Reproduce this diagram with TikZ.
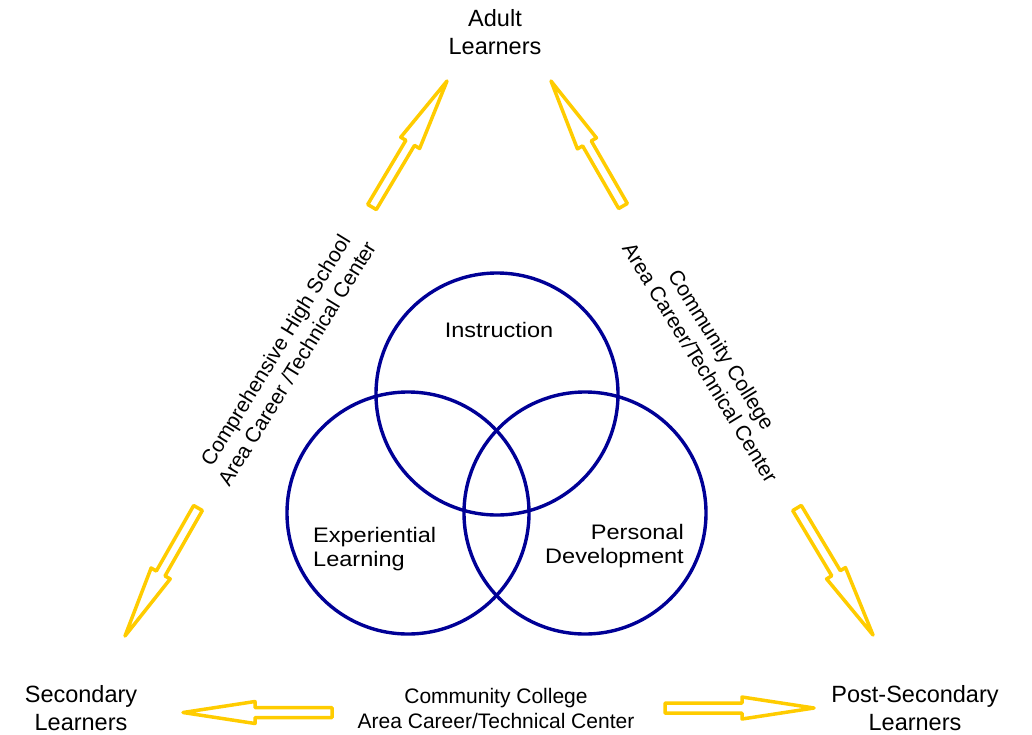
\documentclass[tikz,border=0pt]{standalone}
\usepackage{fontspec}
\setmainfont{Liberation Sans}
\newfontfamily\widesans[FakeStretch=1.12]{Liberation Sans}
\usetikzlibrary{calc}
\definecolor{gold}{RGB}{255,204,0}
\definecolor{navy}{RGB}{0,0,150}
\tikzset{
  barrow/.style={draw=gold, line width=3.5pt, line join=round},
  ring/.style={circle, draw=navy, line width=3.4pt, minimum size=242pt, inner sep=0pt},
  biglabel/.style={inner sep=0pt, align=center, font=\fontsize{23.5}{28}\selectfont},
  midlabel/.style={inner sep=0pt, align=center, font=\fontsize{21}{25}\selectfont},
  ringlabel/.style={inner sep=0pt, font=\widesans\fontsize{21}{24}\selectfont},
}
% #1 tail coordinate, #2 tip coordinate
\newcommand\blockarr[2]{%
  \coordinate (#1-neck) at ($(#2)!72pt!(#1)$);
  \draw[barrow] ($(#1)!5pt!90:(#2)$) -- ($(#1-neck)!5pt!90:(#2)$) -- ($(#1-neck)!11pt!90:(#2)$)
    -- (#2) -- ($(#1-neck)!11pt!-90:(#2)$) -- ($(#1-neck)!5pt!-90:(#2)$)
    -- ($(#1)!5pt!-90:(#2)$) -- cycle;
}
\begin{document}
\begin{tikzpicture}[x=1pt, y=-1pt]
\useasboundingbox (0,0) rectangle (1032,734);

% circles
\node[ring] (instr) at (497,394) {};
\node[ring] (exper) at (408,513) {};
\node[ring] (pers)  at (585,513) {};

\node[ringlabel] (tinstr) at (499,330) {Instruction};
\node[ringlabel, align=left, anchor=west] (texper) at (313,549) {Experiential\\Learning};
\node[ringlabel, align=right, anchor=east] (tpers) at (684,546) {Personal\\Development};

% learner labels
\node[biglabel] (adult) at (495,32) {Adult\\Learners};
\node[biglabel] (second) at (81,708) {Secondary\\Learners};
\node[biglabel] (post) at (915,708) {Post-Secondary\\Learners};

% setting labels
\node[midlabel, rotate=58.5] (leftset) at (286,357) {Comprehensive High School\\Area Career /Technical Center};
\node[midlabel, rotate=-58.5] (rightset) at (711,356) {Community College\\Area Career/Technical Center};
\node[midlabel] (botset) at (496,708) {Community College\\Area Career/Technical Center};

% arrows
\coordinate (a1t) at (372,207); \coordinate (a1p) at (447,81);
\coordinate (a2t) at (623,206); \coordinate (a2p) at (551,81);
\coordinate (a3t) at (198,508); \coordinate (a3p) at (125,636);
\coordinate (a4t) at (797,508); \coordinate (a4p) at (873,635);
\coordinate (a5t) at (332,712.5); \coordinate (a5p) at (183,712.5);
\coordinate (a6t) at (665,708); \coordinate (a6p) at (814,708);
\blockarr{a1t}{a1p}
\blockarr{a2t}{a2p}
\blockarr{a3t}{a3p}
\blockarr{a4t}{a4p}
\blockarr{a5t}{a5p}
\blockarr{a6t}{a6p}
\end{tikzpicture}
\end{document}
